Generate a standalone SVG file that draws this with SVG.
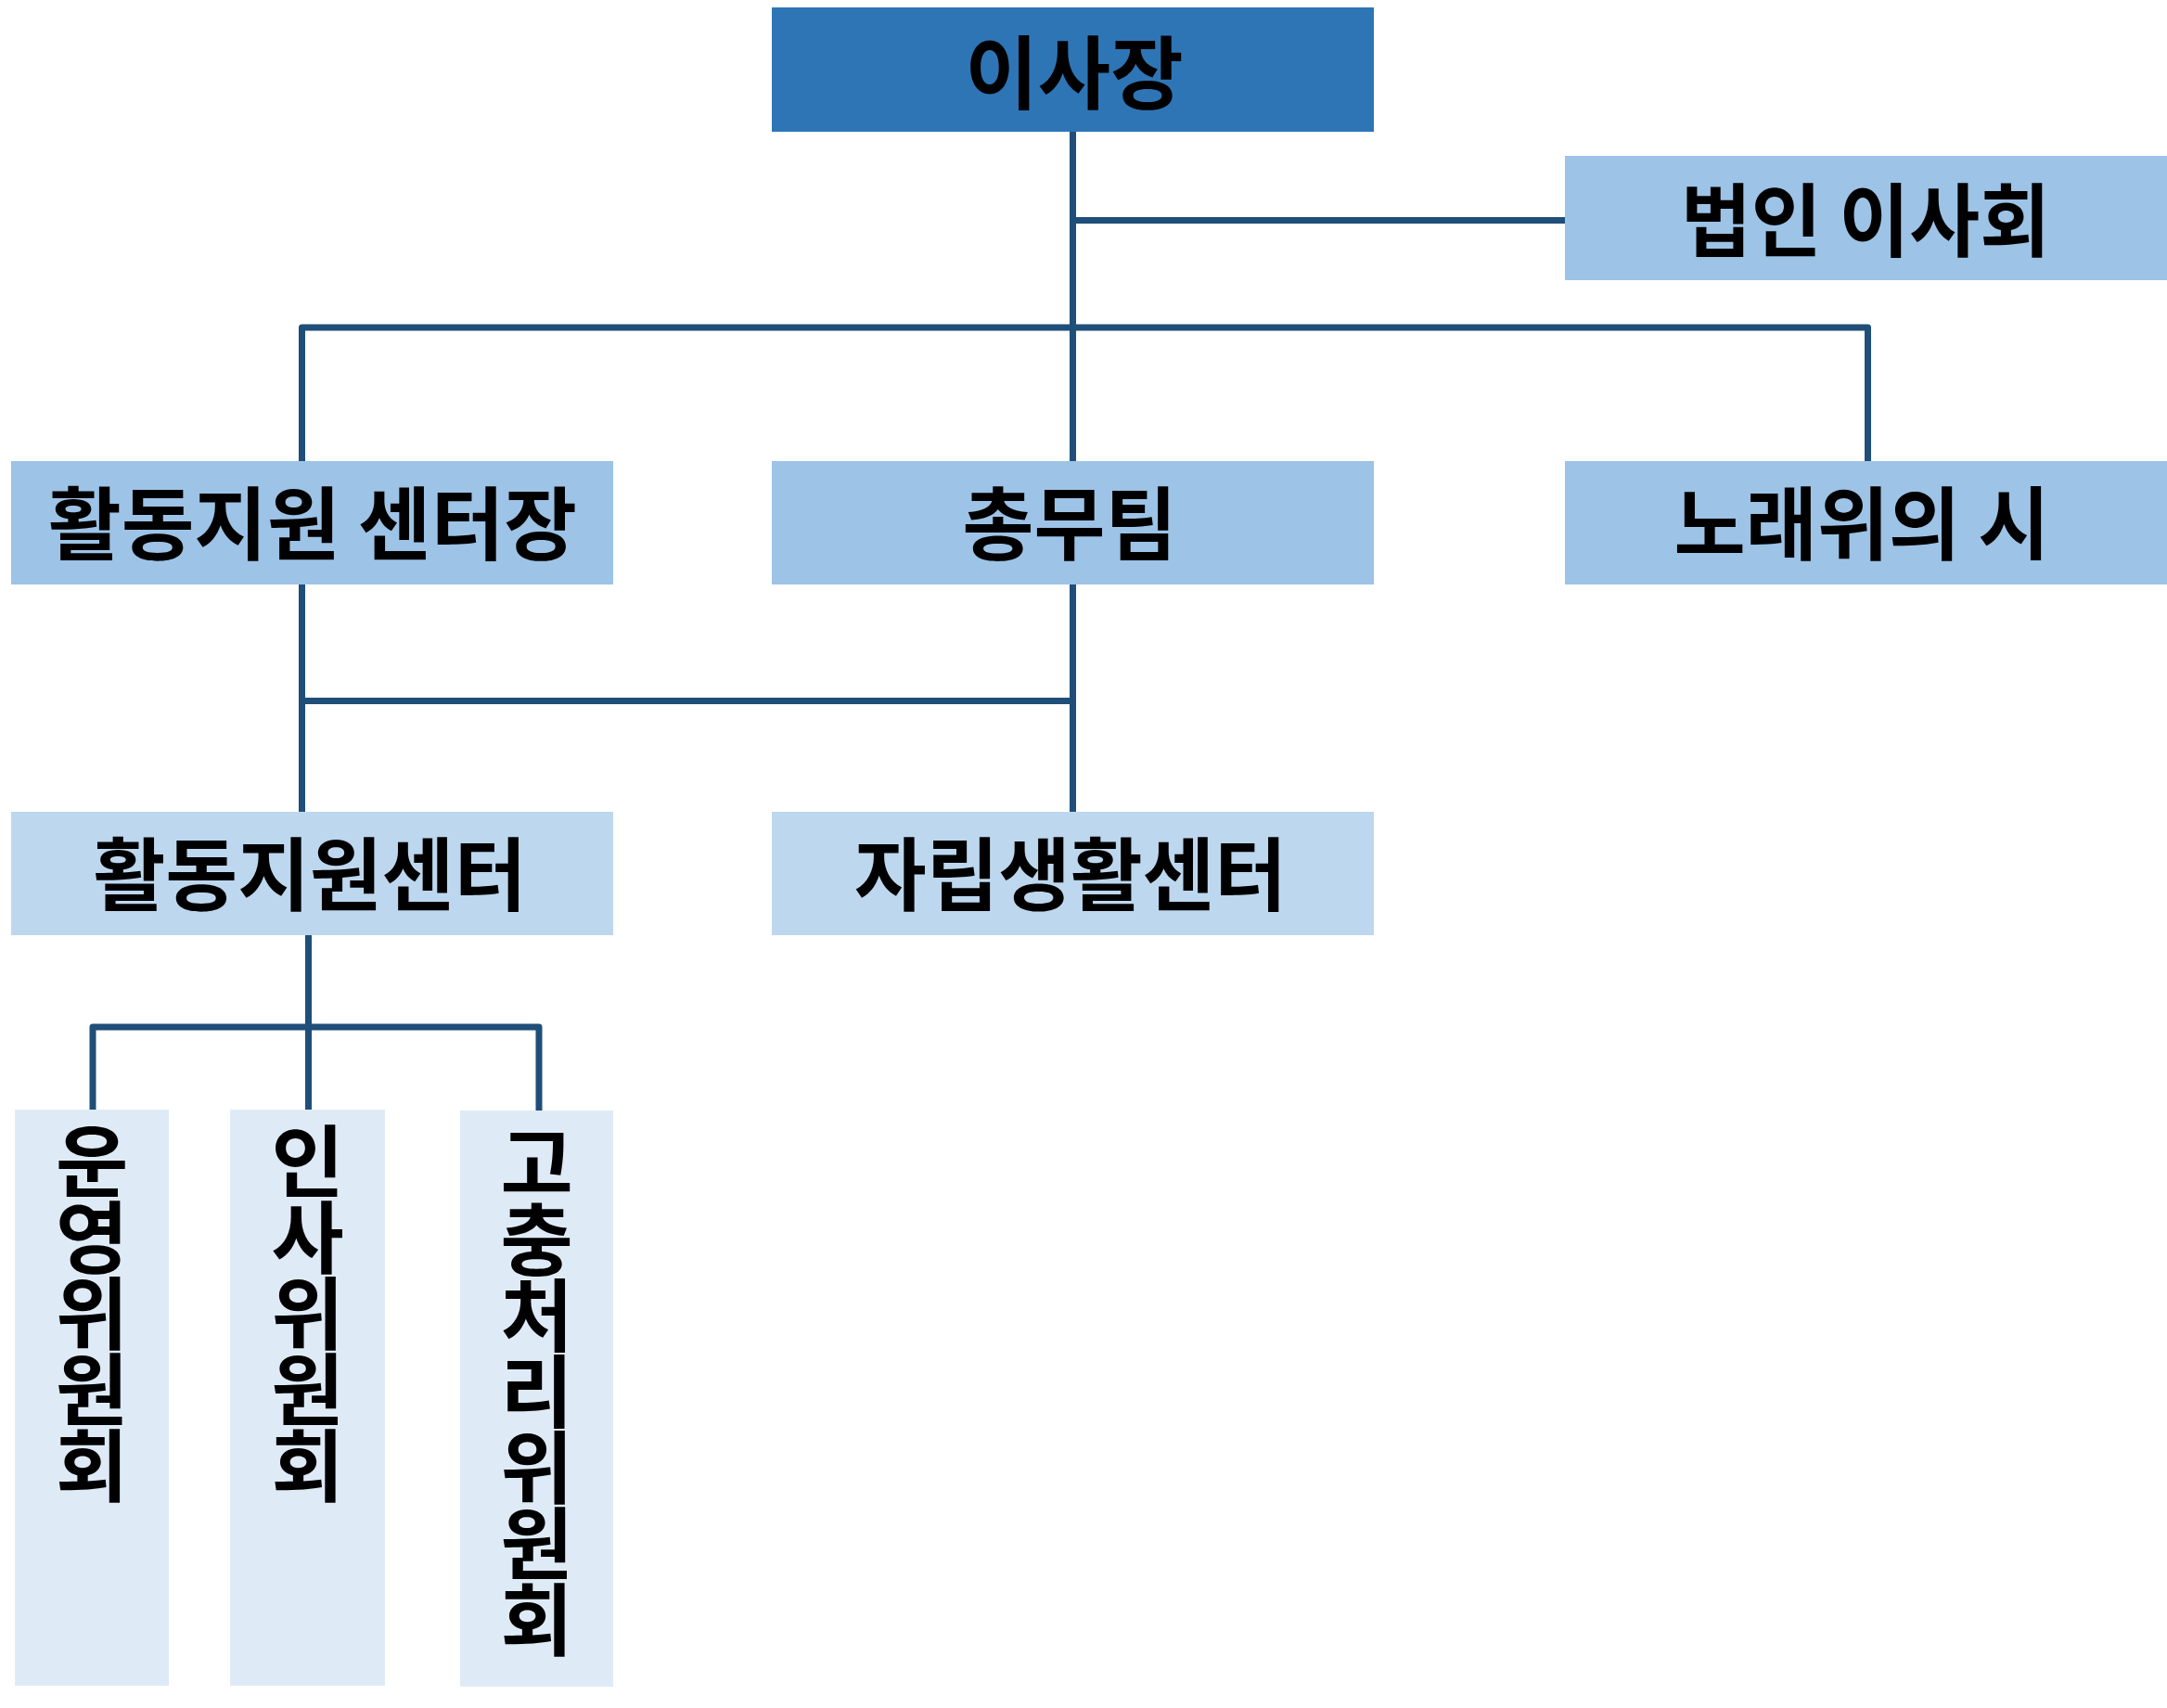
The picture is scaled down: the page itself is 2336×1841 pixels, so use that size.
<svg xmlns="http://www.w3.org/2000/svg" width="2336" height="1841" viewBox="0 0 2336 1841">
<style>
.t{font-family:"Noto Sans CJK KR","Noto Sans",sans-serif;font-weight:700;font-size:86px;fill:#000;text-anchor:middle}
.v{font-family:"Noto Sans CJK KR","Noto Sans",sans-serif;font-weight:700;font-size:85px;fill:#000;writing-mode:vertical-rl;text-orientation:upright;letter-spacing:-3px}
.c{fill:none;stroke:#1F4E79;stroke-width:7;stroke-linejoin:round}
.l1{fill:#2E75B6}
.l2{fill:#9DC3E6}
.l3{fill:#BDD7EE}
.l4{fill:#DEEBF7}
</style>
<rect width="2336" height="1841" fill="#FFFFFF"/>
<g id="connectors">
<path class="c" d="M1156.5 142 V497"/>
<path class="c" d="M1156.5 237.5 H1687"/>
<path class="c" d="M325.5 497 V353 H2013.5 V497"/>
<path class="c" d="M325.5 630 V875"/>
<path class="c" d="M1156.5 630 V875"/>
<path class="c" d="M325.5 755.5 H1156.5"/>
<path class="c" d="M332.5 1008 V1196"/>
<path class="c" d="M100 1196 V1107 H581 V1197"/>
</g>
<g id="node-chairman">
<rect class="l1" x="832" y="8" width="649" height="134"/>
<text class="t" x="1158" y="111" textLength="235" lengthAdjust="spacingAndGlyphs">이사장</text>
</g>
<g id="node-board">
<rect class="l2" x="1687" y="168" width="649" height="134"/>
<text class="t" x="2011" y="270" textLength="398" lengthAdjust="spacingAndGlyphs">법인 이사회</text>
</g>
<g id="node-center-head">
<rect class="l2" x="12" y="497" width="649" height="133"/>
<text class="t" x="337" y="597" textLength="570" lengthAdjust="spacingAndGlyphs">활동지원 센터장</text>
</g>
<g id="node-general-affairs">
<rect class="l2" x="832" y="497" width="649" height="133"/>
<text class="t" x="1153" y="597" textLength="231" lengthAdjust="spacingAndGlyphs">총무팀</text>
</g>
<g id="node-poem">
<rect class="l2" x="1687" y="497" width="649" height="133"/>
<text class="t" x="2007" y="597" textLength="405" lengthAdjust="spacingAndGlyphs">노래위의 시</text>
</g>
<g id="node-activity-center">
<rect class="l3" x="12" y="875" width="649" height="133"/>
<text class="t" x="334" y="975" textLength="467" lengthAdjust="spacingAndGlyphs">활동지원센터</text>
</g>
<g id="node-independent-living">
<rect class="l3" x="832" y="875" width="649" height="133"/>
<text class="t" x="1154" y="975" textLength="466" lengthAdjust="spacingAndGlyphs">자립생활센터</text>
</g>
<g id="node-operating-committee">
<rect class="l4" x="16" y="1196" width="166" height="621"/>
<text class="v" x="99" y="1209">운영위원회</text>
</g>
<g id="node-personnel-committee">
<rect class="l4" x="248" y="1196" width="167" height="621"/>
<text class="v" x="331.5" y="1209">인사위원회</text>
</g>
<g id="node-grievance-committee">
<rect class="l4" x="496" y="1197" width="165" height="621"/>
<text class="v" x="578.5" y="1211">고충처리위원회</text>
</g>
</svg>
